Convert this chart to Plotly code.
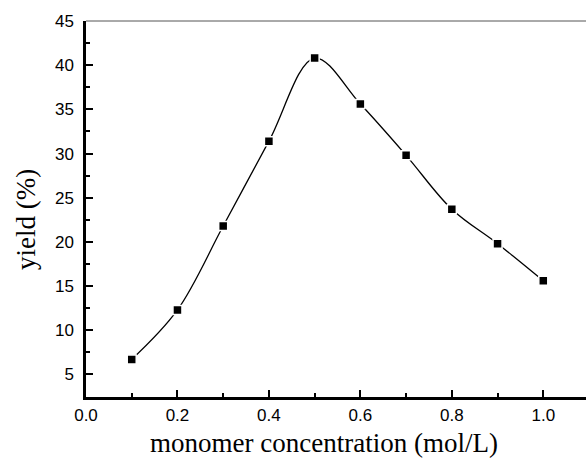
import plotly.graph_objects as go

concentration = [0.1, 0.2, 0.3, 0.4, 0.5, 0.6, 0.7, 0.8, 0.9, 1.0]
yield_pct = [6.7, 12.3, 21.8, 31.4, 40.8, 35.6, 29.8, 23.7, 19.8, 15.6]

x_ticks = [0.0, 0.2, 0.4, 0.6, 0.8, 1.0]
x_ticklabels = ["0.0", "0.2", "0.4", "0.6", "0.8", "1.0"]
y_ticks = [5, 10, 15, 20, 25, 30, 35, 40, 45]
y_ticklabels = ["5", "10", "15", "20", "25", "30", "35", "40", "45"]

fig = go.Figure()
fig.add_trace(go.Scatter(
    x=concentration, y=yield_pct, mode="lines+markers",
    line=dict(color="black", width=1.3, shape="spline", smoothing=1.0),
    marker=dict(symbol="square", size=9, color="black", line=dict(color="white", width=1.5)),
    showlegend=False,
))

fig.add_shape(type="line", xref="paper", yref="paper", x0=0, x1=1, y0=1, y1=1,
              line=dict(color="#555555", width=1))

title_font = dict(family="Liberation Serif, Times New Roman", size=27, color="black")
fig.add_annotation(text="monomer concentration (mol/L)", xref="paper", yref="paper",
                   x=0.476, y=-0.122, xanchor="center", yanchor="middle",
                   showarrow=False, font=title_font)
fig.add_annotation(text="yield (%)", xref="paper", yref="paper",
                   x=-0.12, y=0.4707, xanchor="center", yanchor="middle",
                   textangle=-90, showarrow=False, font=title_font)

fig.update_xaxes(
    range=[0, 1.0934], tickvals=x_ticks, ticktext=x_ticklabels,
    ticks="inside", ticklen=7, tickwidth=2, tickcolor="black",
    minor=dict(dtick=0.1, ticks="inside", ticklen=4, tickwidth=2, tickcolor="black"),
    showline=True, linecolor="black", linewidth=2.5, showgrid=False, zeroline=False,
    tickfont=dict(family="Liberation Sans, Arial", size=17, color="black"),
    ticklabelstandoff=1,
)
fig.update_yaxes(
    range=[2.45, 45], tickvals=y_ticks, ticktext=y_ticklabels,
    ticks="inside", ticklen=7, tickwidth=2, tickcolor="black",
    minor=dict(dtick=2.5, ticks="inside", ticklen=4, tickwidth=2, tickcolor="black"),
    showline=True, linecolor="black", linewidth=2.5, showgrid=False, zeroline=False,
    tickfont=dict(family="Liberation Sans, Arial", size=17, color="black"),
    ticklabelstandoff=6,
)
fig.update_layout(
    width=586, height=462,
    margin=dict(l=86, r=0, t=21, b=65, autoexpand=False),
    plot_bgcolor="white", paper_bgcolor="white",
)
fig.write_html("out.html", config={"displayModeBar": False},
               post_script="document.body.style.margin='0';document.body.style.overflow='hidden';")
